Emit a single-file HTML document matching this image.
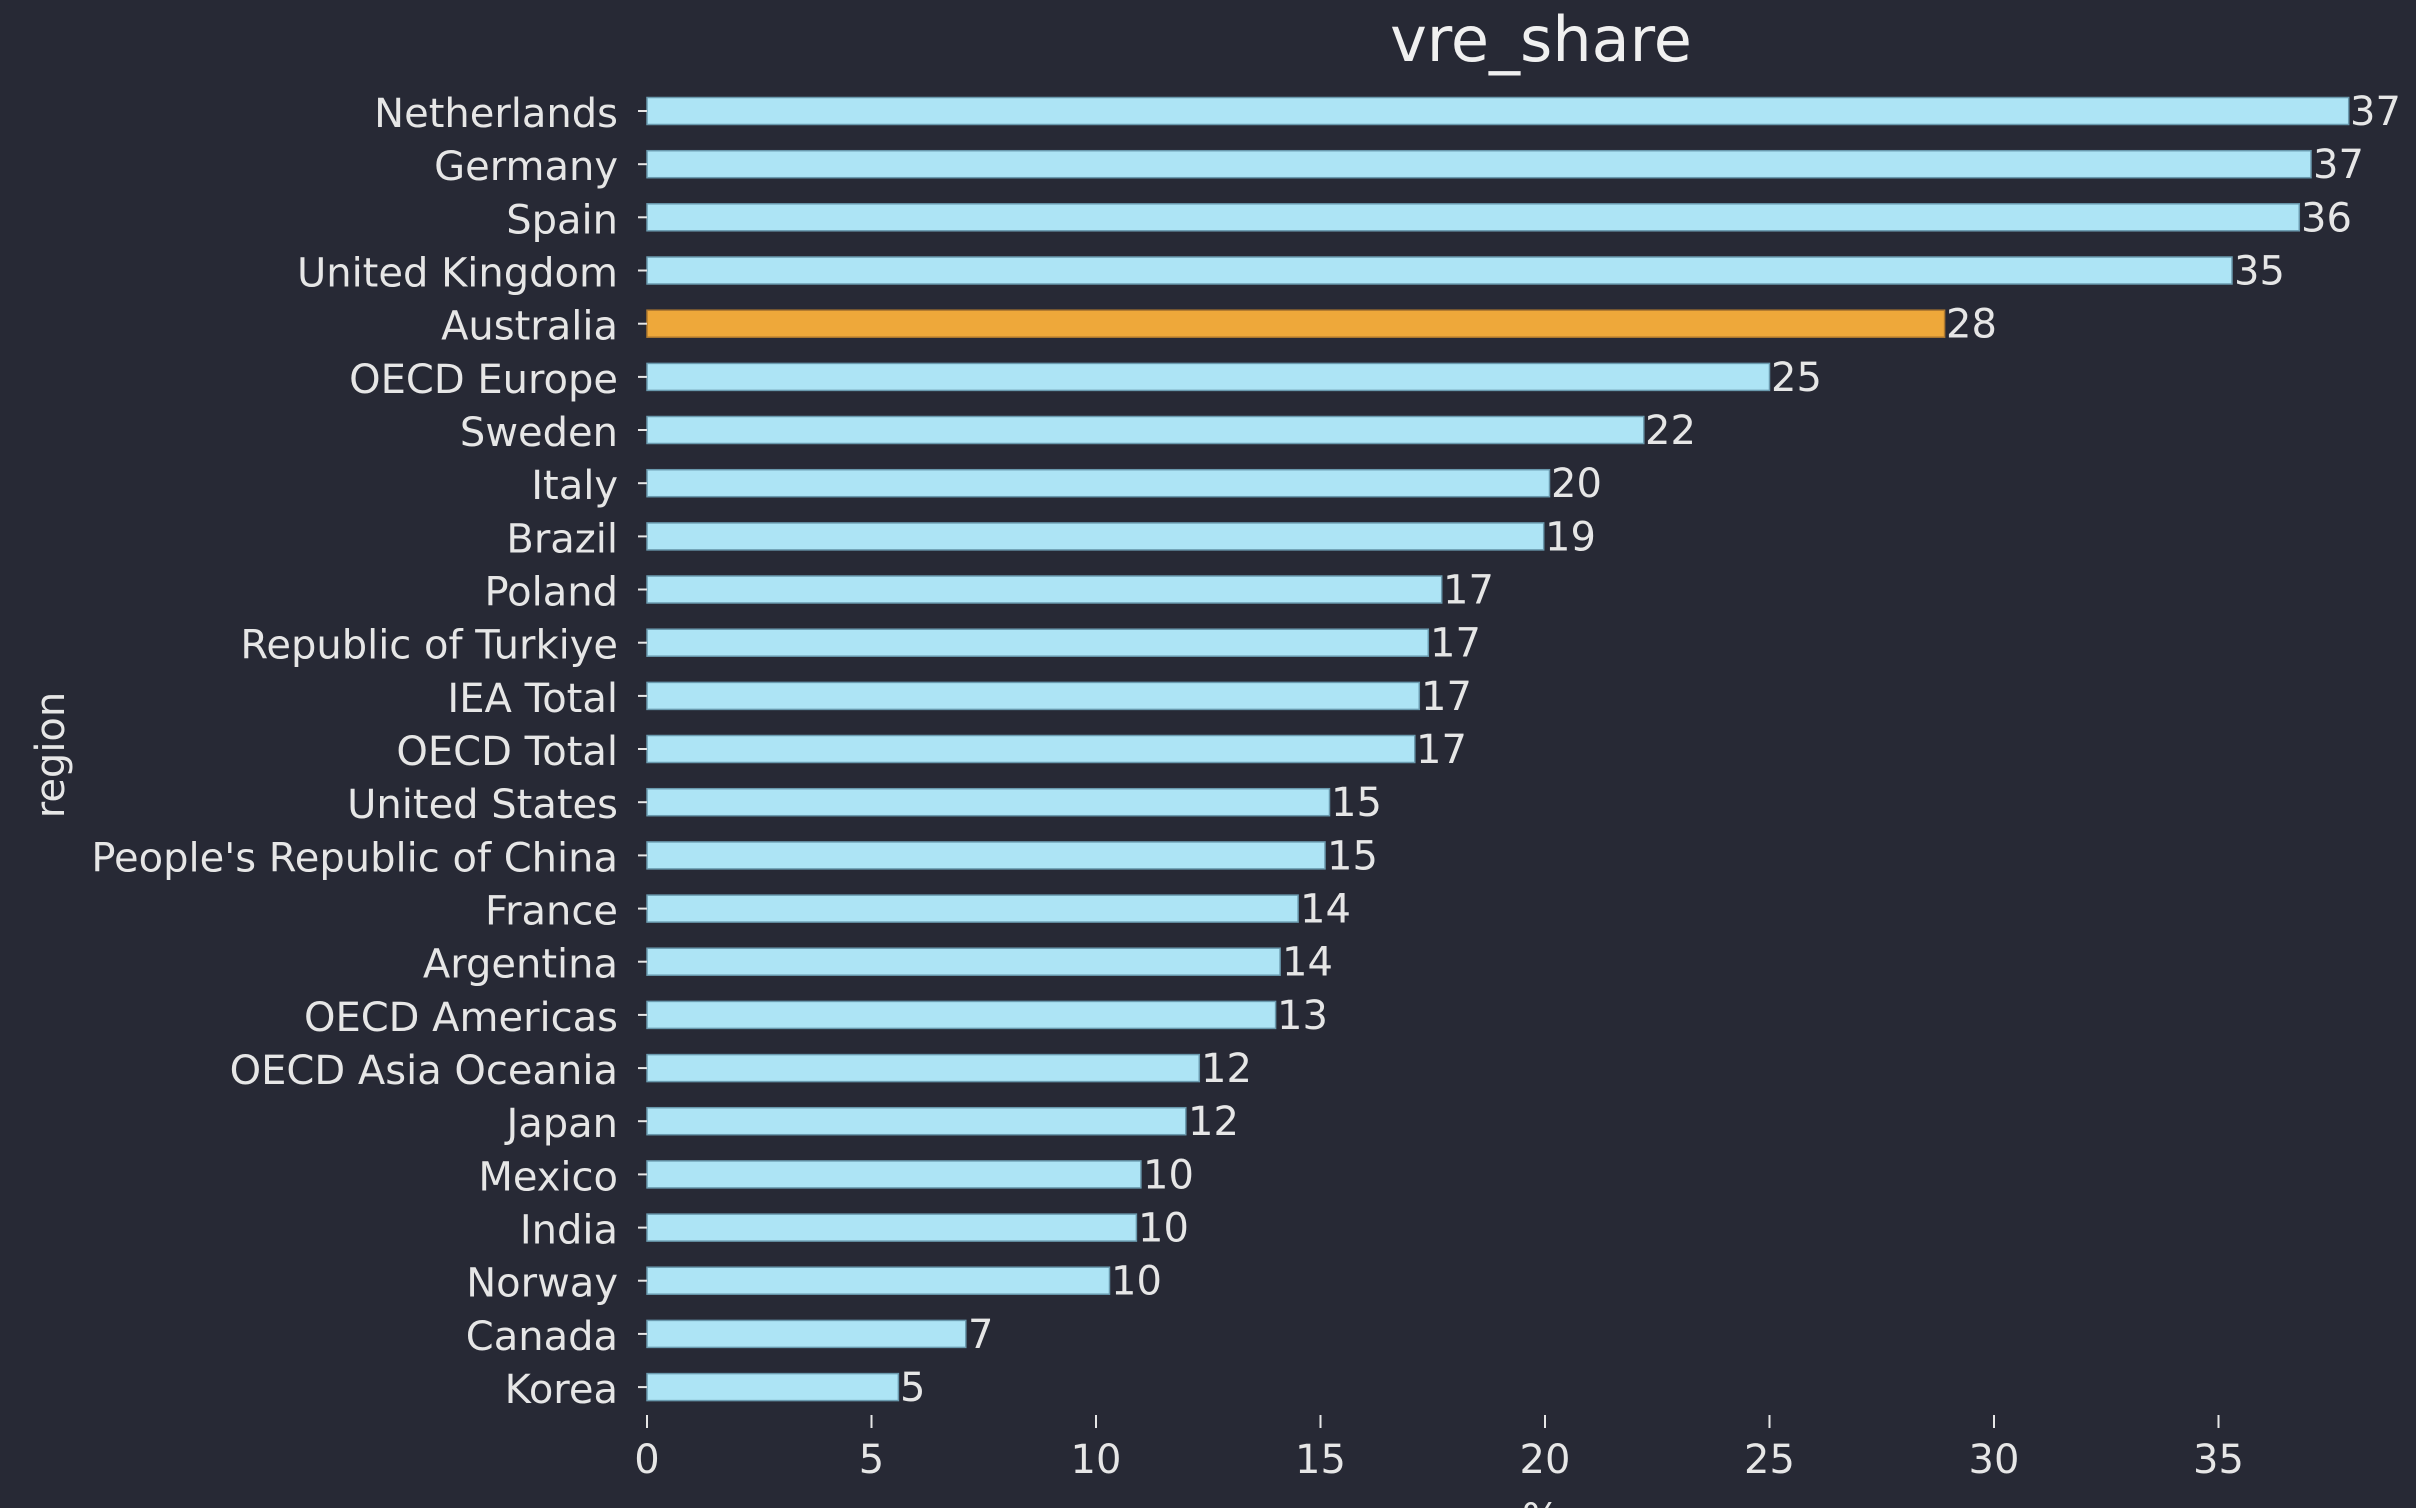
<!DOCTYPE html>
<html><head><meta charset="utf-8"><style>
html,body{margin:0;padding:0;background:#272935;}
svg{display:block}
text{font-family:"DejaVu Sans","Liberation Sans",sans-serif;fill:#e6e6e6;font-size:40px}
.b{fill:#ade4f5;stroke:#6a9aae;stroke-width:1.5}
.o{fill:#eea83a;stroke:#b07a30;stroke-width:1.5}
.t{stroke:#e6e6e6;stroke-width:2}
.l{text-anchor:end}
</style></head><body>
<svg width="2416" height="1508" viewBox="0 0 2416 1508" xmlns="http://www.w3.org/2000/svg">
<rect width="2416" height="1508" fill="#272935"/>
<text x="1541" y="61" style="font-size:62px;fill:#f0f0f0" text-anchor="middle">vre_share</text>
<g transform="translate(0,2)">
<g transform="translate(0,109)"><rect class="b" x="647" y="-13.5" width="1701.7" height="27"/><line class="t" x1="638" x2="647" y1="0" y2="0"/><text class="l" x="618" y="16">Netherlands</text><text x="2350" y="14">37</text></g>
<g transform="translate(0,162.2)"><rect class="b" x="647" y="-13.5" width="1664" height="27"/><line class="t" x1="638" x2="647" y1="0" y2="0"/><text class="l" x="618" y="16">Germany</text><text x="2313" y="14">37</text></g>
<g transform="translate(0,215.3)"><rect class="b" x="647" y="-13.5" width="1652.3" height="27"/><line class="t" x1="638" x2="647" y1="0" y2="0"/><text class="l" x="618" y="16">Spain</text><text x="2301" y="14">36</text></g>
<g transform="translate(0,268.5)"><rect class="b" x="647" y="-13.5" width="1585" height="27"/><line class="t" x1="638" x2="647" y1="0" y2="0"/><text class="l" x="618" y="16">United Kingdom</text><text x="2234" y="14">35</text></g>
<g transform="translate(0,321.7)"><rect class="o" x="647" y="-13.5" width="1297.6" height="27"/><line class="t" x1="638" x2="647" y1="0" y2="0"/><text class="l" x="618" y="16">Australia</text><text x="1946" y="14">28</text></g>
<g transform="translate(0,374.9)"><rect class="b" x="647" y="-13.5" width="1122.5" height="27"/><line class="t" x1="638" x2="647" y1="0" y2="0"/><text class="l" x="618" y="16">OECD Europe</text><text x="1771" y="14">25</text></g>
<g transform="translate(0,428)"><rect class="b" x="647" y="-13.5" width="996.8" height="27"/><line class="t" x1="638" x2="647" y1="0" y2="0"/><text class="l" x="618" y="16">Sweden</text><text x="1645" y="14">22</text></g>
<g transform="translate(0,481.2)"><rect class="b" x="647" y="-13.5" width="902.5" height="27"/><line class="t" x1="638" x2="647" y1="0" y2="0"/><text class="l" x="618" y="16">Italy</text><text x="1551" y="14">20</text></g>
<g transform="translate(0,534.4)"><rect class="b" x="647" y="-13.5" width="896.7" height="27"/><line class="t" x1="638" x2="647" y1="0" y2="0"/><text class="l" x="618" y="16">Brazil</text><text x="1545" y="14">19</text></g>
<g transform="translate(0,587.5)"><rect class="b" x="647" y="-13.5" width="794.7" height="27"/><line class="t" x1="638" x2="647" y1="0" y2="0"/><text class="l" x="618" y="16">Poland</text><text x="1443" y="14">17</text></g>
<g transform="translate(0,640.7)"><rect class="b" x="647" y="-13.5" width="781.3" height="27"/><line class="t" x1="638" x2="647" y1="0" y2="0"/><text class="l" x="618" y="16">Republic of Turkiye</text><text x="1430" y="14">17</text></g>
<g transform="translate(0,693.9)"><rect class="b" x="647" y="-13.5" width="772.3" height="27"/><line class="t" x1="638" x2="647" y1="0" y2="0"/><text class="l" x="618" y="16">IEA Total</text><text x="1421" y="14">17</text></g>
<g transform="translate(0,747)"><rect class="b" x="647" y="-13.5" width="767.8" height="27"/><line class="t" x1="638" x2="647" y1="0" y2="0"/><text class="l" x="618" y="16">OECD Total</text><text x="1416" y="14">17</text></g>
<g transform="translate(0,800.2)"><rect class="b" x="647" y="-13.5" width="682.5" height="27"/><line class="t" x1="638" x2="647" y1="0" y2="0"/><text class="l" x="618" y="16">United States</text><text x="1331" y="14">15</text></g>
<g transform="translate(0,853.4)"><rect class="b" x="647" y="-13.5" width="678" height="27"/><line class="t" x1="638" x2="647" y1="0" y2="0"/><text class="l" x="618" y="16">People&#39;s Republic of China</text><text x="1327" y="14">15</text></g>
<g transform="translate(0,906.6)"><rect class="b" x="647" y="-13.5" width="651.1" height="27"/><line class="t" x1="638" x2="647" y1="0" y2="0"/><text class="l" x="618" y="16">France</text><text x="1300" y="14">14</text></g>
<g transform="translate(0,959.7)"><rect class="b" x="647" y="-13.5" width="633.1" height="27"/><line class="t" x1="638" x2="647" y1="0" y2="0"/><text class="l" x="618" y="16">Argentina</text><text x="1282" y="14">14</text></g>
<g transform="translate(0,1012.9)"><rect class="b" x="647" y="-13.5" width="628.6" height="27"/><line class="t" x1="638" x2="647" y1="0" y2="0"/><text class="l" x="618" y="16">OECD Americas</text><text x="1277" y="14">13</text></g>
<g transform="translate(0,1066.1)"><rect class="b" x="647" y="-13.5" width="552.3" height="27"/><line class="t" x1="638" x2="647" y1="0" y2="0"/><text class="l" x="618" y="16">OECD Asia Oceania</text><text x="1201" y="14">12</text></g>
<g transform="translate(0,1119.2)"><rect class="b" x="647" y="-13.5" width="538.8" height="27"/><line class="t" x1="638" x2="647" y1="0" y2="0"/><text class="l" x="618" y="16">Japan</text><text x="1188" y="14">12</text></g>
<g transform="translate(0,1172.4)"><rect class="b" x="647" y="-13.5" width="493.9" height="27"/><line class="t" x1="638" x2="647" y1="0" y2="0"/><text class="l" x="618" y="16">Mexico</text><text x="1143" y="14">10</text></g>
<g transform="translate(0,1225.6)"><rect class="b" x="647" y="-13.5" width="489.4" height="27"/><line class="t" x1="638" x2="647" y1="0" y2="0"/><text class="l" x="618" y="16">India</text><text x="1138" y="14">10</text></g>
<g transform="translate(0,1278.7)"><rect class="b" x="647" y="-13.5" width="462.5" height="27"/><line class="t" x1="638" x2="647" y1="0" y2="0"/><text class="l" x="618" y="16">Norway</text><text x="1111" y="14">10</text></g>
<g transform="translate(0,1331.9)"><rect class="b" x="647" y="-13.5" width="318.8" height="27"/><line class="t" x1="638" x2="647" y1="0" y2="0"/><text class="l" x="618" y="16">Canada</text><text x="968" y="14">7</text></g>
<g transform="translate(0,1385.1)"><rect class="b" x="647" y="-13.5" width="251.4" height="27"/><line class="t" x1="638" x2="647" y1="0" y2="0"/><text class="l" x="618" y="16">Korea</text><text x="900" y="14">5</text></g>
</g>
<g text-anchor="middle">
<line class="t" x1="647" x2="647" y1="1415" y2="1428"/><text x="647" y="1473">0</text>
<line class="t" x1="871.5" x2="871.5" y1="1415" y2="1428"/><text x="871.5" y="1473">5</text>
<line class="t" x1="1096" x2="1096" y1="1415" y2="1428"/><text x="1096" y="1473">10</text>
<line class="t" x1="1320.5" x2="1320.5" y1="1415" y2="1428"/><text x="1320.5" y="1473">15</text>
<line class="t" x1="1545" x2="1545" y1="1415" y2="1428"/><text x="1545" y="1473">20</text>
<line class="t" x1="1769.5" x2="1769.5" y1="1415" y2="1428"/><text x="1769.5" y="1473">25</text>
<line class="t" x1="1994" x2="1994" y1="1415" y2="1428"/><text x="1994" y="1473">30</text>
<line class="t" x1="2218.5" x2="2218.5" y1="1415" y2="1428"/><text x="2218.5" y="1473">35</text>
<text x="1541" y="1532">%</text>
<text transform="translate(64,755) rotate(-90)">region</text>
</g>
</svg>
</body></html>
